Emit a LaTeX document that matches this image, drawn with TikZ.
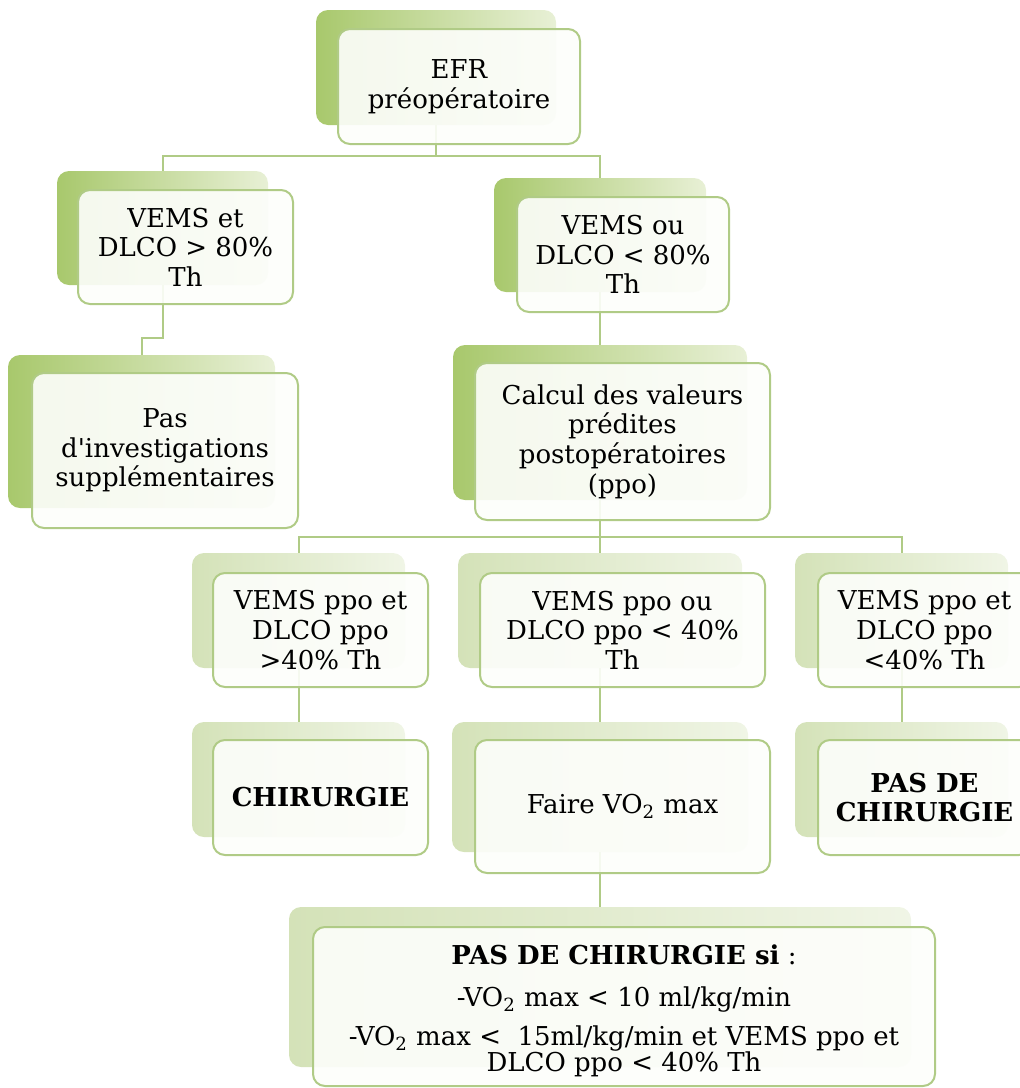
\documentclass[tikz,border=0pt]{standalone}
\usepackage{fontspec}
\setmainfont{DejaVu Serif}[Ligatures=TeXOff]
\usepackage{xcolor}

\definecolor{efrdark}{RGB}{168,200,108}
\definecolor{efrlight}{RGB}{232,240,214}
\definecolor{paledark}{RGB}{212,226,184}
\definecolor{palelight}{RGB}{240,245,230}
\definecolor{efrline}{RGB}{176,203,134}
\definecolor{efrfill}{RGB}{253,254,251}

\begin{document}
\begin{tikzpicture}[x=0.5pt, y=-0.5pt,
 back/.style={rounded corners=6pt, left color=efrdark, right color=efrlight},
 paleback/.style={rounded corners=6pt, left color=paledark, right color=palelight},
 front/.style={rounded corners=6pt, draw=efrline, line width=1pt, fill=efrfill, fill opacity=0.9, text opacity=1, align=center, font=\fontsize{13}{14.8}\selectfont, inner sep=2pt},
 link/.style={draw=efrline, line width=1pt}]
 \useasboundingbox (0,0) rectangle (1020,1088);

 \node[back, minimum width=120pt, minimum height=57.5pt] (efrB) at (436,67.5) {};
 \node[back, minimum width=105.5pt, minimum height=57pt] (vetB) at (162.5,228) {};
 \node[back, minimum width=106pt, minimum height=57pt] (vouB) at (600,235) {};
 \node[back, minimum width=133.5pt, minimum height=76.5pt] (pasB) at (141.5,431.5) {};
 \node[back, minimum width=147pt, minimum height=77.5pt] (calB) at (600,422.5) {};
 \node[paleback, minimum width=106.5pt, minimum height=57.5pt] (ppoaB) at (298.5,610.5) {};
 \node[paleback, minimum width=142pt, minimum height=57.5pt] (ppobB) at (600,610.5) {};
 \node[paleback, minimum width=106.5pt, minimum height=57.5pt] (ppocB) at (901.5,610.5) {};
 \node[paleback, minimum width=106.5pt, minimum height=57.5pt] (chirB) at (298.5,779.5) {};
 \node[paleback, minimum width=148pt, minimum height=65pt] (faireB) at (600,787) {};
 \node[paleback, minimum width=106.5pt, minimum height=57.5pt] (nonB) at (901.5,779.5) {};
 \node[paleback, minimum width=311pt, minimum height=80pt] (siB) at (600,987) {};

 \coordinate (j0) at (436,156);
 \coordinate (j1) at (162.5,338);
 \coordinate (j2) at (600,537);
 \draw[link] (efrB.south) -- (j0) -| (vetB.north);
 \draw[link] (j0) -| (vouB.north);
 \draw[link] (vetB.south) -- (j1) -| (pasB.north);
 \draw[link] (vouB.south) -- (calB.north);
 \draw[link] (calB.south) -- (j2) -| (ppoaB.north);
 \draw[link] (j2) -- (ppobB.north);
 \draw[link] (j2) -| (ppocB.north);
 \draw[link] (ppoaB.south) -- (chirB.north);
 \draw[link] (ppobB.south) -- (faireB.north);
 \draw[link] (ppocB.south) -- (nonB.north);
 \draw[link] (faireB.south) -- (siB.north);

 \node[front, minimum width=121pt, minimum height=57.5pt] (efr) at (459,86.5) {EFR\\préopératoire};
 \node[front, minimum width=107.5pt, minimum height=57pt] (vet) at (185.5,247) {VEMS et\\DLCO > 80\%\\Th};
 \node[front, minimum width=106pt, minimum height=57.5pt] (vou) at (623,254.5) {VEMS ou\\DLCO < 80\%\\Th};
 \node[front, minimum width=133pt, minimum height=77.5pt] (pas) at (165,450.5) {Pas\\d'investigations\\supplémentaires};
 \node[front, minimum width=147.5pt, minimum height=78.5pt] (cal) at (622.5,441.5) {Calcul des valeurs\\prédites\\postopératoires\\(ppo)};
 \node[front, minimum width=107.5pt, minimum height=57pt] (ppoa) at (320.5,630) {VEMS ppo et\\DLCO ppo\\>40\% Th};
 \node[front, minimum width=142.5pt, minimum height=57pt] (ppob) at (622.5,630) {VEMS ppo ou\\DLCO ppo < 40\%\\Th};
 \node[front, minimum width=106.5pt, minimum height=57pt] (ppoc) at (924.5,630) {VEMS ppo et\\DLCO ppo\\<40\% Th};
 \node[front, minimum width=107.5pt, minimum height=57.5pt] (chir) at (320.5,797.5) {\textbf{CHIRURGIE}};
 \node[front, minimum width=147.5pt, minimum height=66.5pt] (faire) at (622.5,806.5) {Faire VO\textsubscript{2} max};
 \node[front, minimum width=106.5pt, minimum height=57.5pt] (non) at (924.5,797.5) {\textbf{PAS DE}\\\textbf{CHIRURGIE}};
 \node[front, minimum width=311pt, minimum height=79.5pt, font=\fontsize{13}{13}\selectfont] (si) at (624,1006.5) {\rule{0pt}{14pt}\textbf{PAS DE CHIRURGIE si} :\\[8pt]-VO\textsubscript{2} max < 10 ml/kg/min\\[6.5pt]-VO\textsubscript{2} max < \ 15ml/kg/min et VEMS ppo et\\DLCO ppo < 40\% Th};
\end{tikzpicture}
\end{document}
